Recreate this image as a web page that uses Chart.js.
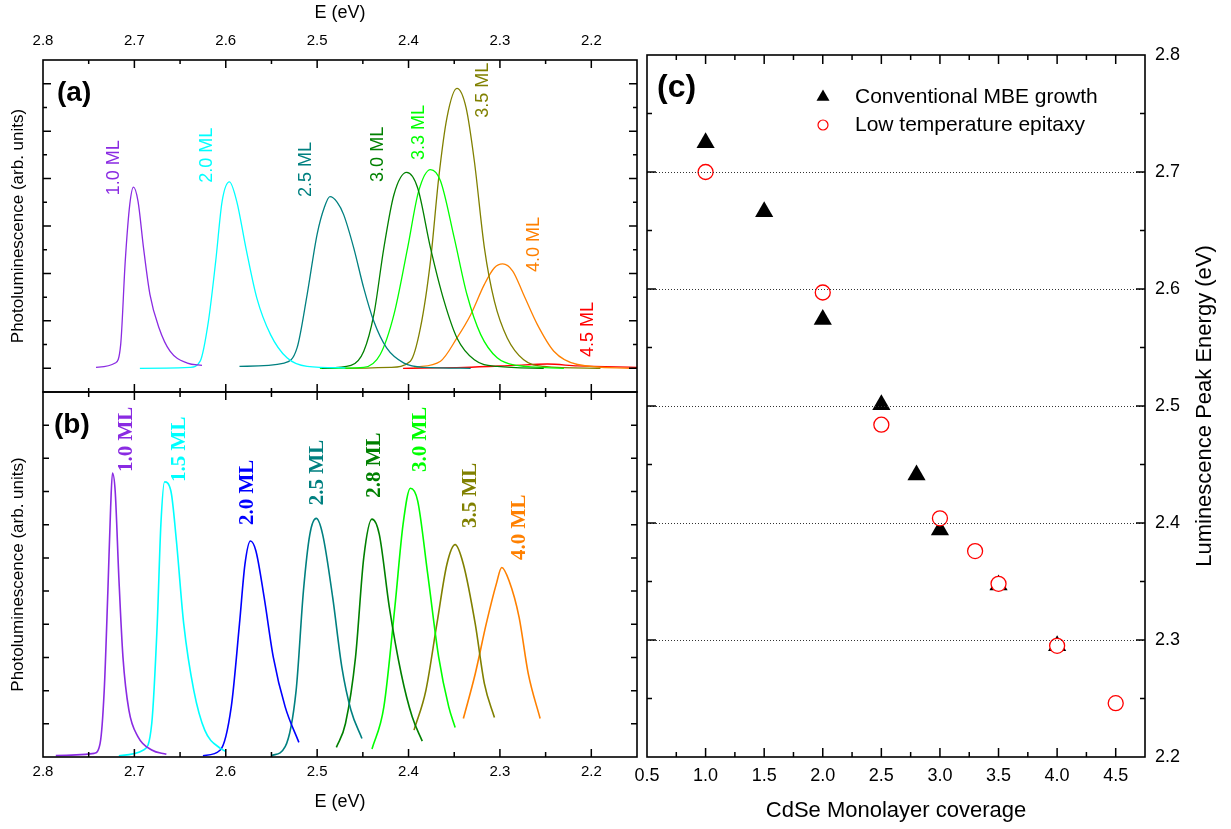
<!DOCTYPE html>
<html>
<head>
<meta charset="utf-8">
<script src="https://cdn.jsdelivr.net/npm/chart.js@4"></script>
<style>
html, body { margin: 0; padding: 0; background: #fff; }
#wrap { position: relative; width: 1231px; height: 829px; }
canvas { position: absolute; left: 0; top: 0; }
</style>
</head>
<body>
<div id="wrap">
<canvas id="ca" width="1231" height="829"></canvas>
<canvas id="cb" width="1231" height="829"></canvas>
<canvas id="cc" width="1231" height="829"></canvas>
</div>
<script>
Chart.defaults.font.family = '"Liberation Sans", Arial, Helvetica, sans-serif'
Chart.defaults.color = '#000'

// panel (a) spectra, [E (eV), PL intensity in arb. units]
var a10 = [[2.742,0.02],[2.721,0.11],[2.715,0.5],[2.710,2.26],[2.705,3.46],[2.701,3.82],[2.696,3.52],[2.690,2.54],[2.683,1.56],[2.673,0.85],[2.661,0.36],[2.642,0.11],[2.626,0.06]]
var a20 = [[2.694,0],[2.639,0.02],[2.628,0.15],[2.619,0.99],[2.611,2.26],[2.604,3.52],[2.596,3.93],[2.588,3.52],[2.578,2.54],[2.566,1.48],[2.551,0.71],[2.533,0.22],[2.511,0.04],[2.469,0.01]]
var a25 = [[2.585,0.04],[2.536,0.11],[2.522,0.43],[2.511,1.55],[2.500,2.83],[2.492,3.4],[2.486,3.62],[2.478,3.5],[2.471,3.24],[2.460,2.54],[2.449,1.69],[2.438,0.99],[2.424,0.43],[2.405,0.11],[2.383,0.02],[2.332,0]]
var a30 = [[2.495,0],[2.463,0.06],[2.449,0.36],[2.438,1.13],[2.427,2.54],[2.416,3.66],[2.402,4.13],[2.390,3.80],[2.376,2.54],[2.361,1.41],[2.347,0.64],[2.328,0.18],[2.303,0.04],[2.252,0]]
var a33 = [[2.497,0],[2.449,0.02],[2.431,0.29],[2.416,1.13],[2.401,2.54],[2.389,3.73],[2.376,4.19],[2.365,3.95],[2.350,2.75],[2.336,1.55],[2.321,0.71],[2.303,0.22],[2.281,0.06],[2.230,0]]
var a35 = [[2.47,0],[2.420,0.02],[2.398,0.15],[2.387,0.85],[2.376,2.26],[2.367,4.01],[2.358,5.28],[2.347,5.90],[2.337,5.49],[2.328,4.37],[2.317,2.54],[2.306,1.41],[2.292,0.64],[2.274,0.18],[2.252,0.04],[2.19,0]]
var a40 = [[2.394,0.02],[2.365,0.15],[2.347,0.64],[2.332,1.13],[2.317,1.77],[2.306,2.12],[2.297,2.20],[2.286,2.05],[2.274,1.55],[2.259,0.92],[2.241,0.36],[2.215,0.08],[2.157,0]]
var a45 = [[2.406,0],[2.339,0.02],[2.285,0.06],[2.248,0.09],[2.215,0.05],[2.150,0.02]]
var curvesA = [a10, a20, a25, a30, a33, a35, a40, a45]
var namesA = ['1.0 ML','2.0 ML','2.5 ML','3.0 ML','3.3 ML','3.5 ML','4.0 ML','4.5 ML']
var tagEA = [2.722, 2.621, 2.512, 2.433, 2.388, 2.318, 2.263, 2.204]
var tagIA = [3.65, 3.91, 3.61, 3.93, 4.39, 5.28, 2.03, 0.24]
var colorsA = ['#8a2be2','#00ffff','#008080','#008000','#00ff00','#808000','#ff8000','#ff0000']

// panel (b) spectra
var b10 = [[2.786,0.04],[2.744,0.11],[2.7375,0.41],[2.733,2.01],[2.729,5.01],[2.726,7.51],[2.724,8.56],[2.721,8.01],[2.717,5.41],[2.7125,3.01],[2.706,1.41],[2.696,0.61],[2.681,0.21],[2.665,0.08]]
var b15 = [[2.717,0.04],[2.690,0.21],[2.681,1.01],[2.675,4.01],[2.671,7.01],[2.667,8.29],[2.660,8.01],[2.654,6.51],[2.646,4.01],[2.635,2.01],[2.623,0.81],[2.606,0.26],[2.600,0.17]]
var b20 = [[2.625,0.04],[2.606,0.21],[2.594,1.51],[2.585,4.01],[2.579,5.81],[2.573,6.51],[2.567,6.21],[2.558,4.81],[2.548,3.01],[2.535,1.51],[2.520,0.44]]
var b25 = [[2.55,0.04],[2.535,0.31],[2.523,2.01],[2.515,5.01],[2.508,6.71],[2.501,7.19],[2.494,6.71],[2.483,4.81],[2.473,2.71],[2.463,1.41],[2.451,0.56]]
var b28 = [[2.479,0.29],[2.469,1.01],[2.458,3.01],[2.449,6.01],[2.440,7.17],[2.432,6.71],[2.421,4.51],[2.408,2.51],[2.396,1.21],[2.385,0.48]]
var b30 = [[2.440,0.24],[2.427,1.51],[2.415,4.51],[2.406,7.01],[2.398,8.10],[2.390,7.72],[2.379,5.51],[2.367,3.01],[2.356,1.51],[2.349,0.89]]
var b35 = [[2.394,0.81],[2.381,2.01],[2.369,4.01],[2.358,5.81],[2.349,6.40],[2.340,5.81],[2.327,4.01],[2.317,2.21],[2.306,1.19]]
var b40 = [[2.340,1.16],[2.327,2.51],[2.315,4.01],[2.304,5.21],[2.298,5.71],[2.290,5.31],[2.279,4.21],[2.269,2.51],[2.256,1.16]]
var curvesB = [b10, b15, b20, b25, b28, b30, b35, b40]
var namesB = ['1.0 ML','1.5 ML','2.0 ML','2.5 ML','2.8 ML','3.0 ML','3.5 ML','4.0 ML']
var tagEB = [2.709, 2.651, 2.576, 2.499, 2.437, 2.387, 2.332, 2.278]
var tagIB = [8.59, 8.29, 6.99, 7.59, 7.81, 8.59, 6.90, 5.94]
var colorsB = ['#8a2be2','#00ffff','#0000ff','#008080','#008000','#00ff00','#808000','#ff8000']

// panel (c) peak energies vs coverage
var covConv = [1.0, 1.5, 2.0, 2.5, 2.8, 3.0, 3.5, 4.0]
var peakConv = [2.725, 2.666, 2.574, 2.501, 2.441, 2.394, 2.347, 2.295]
var covLow = [1.0, 2.0, 2.5, 3.0, 3.3, 3.5, 4.0, 4.5]
var peakLow = [2.700, 2.597, 2.484, 2.404, 2.376, 2.348, 2.295, 2.246]

// tick values
var eTicks = [2.2, 2.3, 2.4, 2.5, 2.6, 2.7, 2.8]
var aTicks = [0, 1, 2, 3, 4, 5, 6]
var bTicks = [1, 2, 3, 4, 5, 6, 7, 8, 9, 10]
var covTicks = [0.5, 1.0, 1.5, 2.0, 2.5, 3.0, 3.5, 4.0, 4.5]
var peakTicks = [2.2, 2.3, 2.4, 2.5, 2.6, 2.7, 2.8]

function setTicks(vals) {
    return function (s) { s.ticks = vals.map(function (v) { return {value: v} }) }
}

function minorsOf(scale, vals) {
    var out = []
    var step = vals[1] - vals[0]
    var lo = Math.min(scale.min, scale.max), hi = Math.max(scale.min, scale.max)
    var cand = [vals[0] - step / 2]
    vals.forEach(function (v) { cand.push(v + step / 2) })
    cand.forEach(function (v) { if (v > lo + 1e-6 && v < hi - 1e-6) out.push(v) })
    return out
}

// box round the plot with inward ticks, like the original figure
function drawFrame(chart, o) {
    var ctx = chart.ctx, a = chart.chartArea, x = chart.scales.x, y = chart.scales.y
    ctx.save()
    ctx.strokeStyle = '#000'
    if (o.grid) {
        ctx.lineWidth = 1
        ctx.strokeStyle = '#333'
        ctx.setLineDash([1, 2])
        o.yMajor.forEach(function (v) {
            var py = Math.round(y.getPixelForValue(v)) + 0.5
            if (py > a.top + 2 && py < a.bottom - 2) {
                ctx.beginPath(); ctx.moveTo(a.left, py); ctx.lineTo(a.right, py); ctx.stroke()
            }
        })
        ctx.setLineDash([])
        ctx.strokeStyle = '#000'
    }
    ctx.lineWidth = 1.5
    function xt(vals, len) {
        vals.forEach(function (v) {
            var px = x.getPixelForValue(v)
            if (px < a.left + 2 || px > a.right - 2) return
            ctx.beginPath(); ctx.moveTo(px, a.top); ctx.lineTo(px, a.top + len)
            ctx.moveTo(px, a.bottom); ctx.lineTo(px, a.bottom - len); ctx.stroke()
        })
    }
    function yt(vals, len) {
        vals.forEach(function (v) {
            var py = y.getPixelForValue(v)
            if (py < a.top + 2 || py > a.bottom - 2) return
            ctx.beginPath(); ctx.moveTo(a.left, py); ctx.lineTo(a.left + len, py)
            ctx.moveTo(a.right, py); ctx.lineTo(a.right - len, py); ctx.stroke()
        })
    }
    xt(o.xMajor, o.major)
    xt(minorsOf(x, o.xMajor), o.minor)
    yt(o.yMajor, o.yMajorLen || o.major)
    if (o.yMinor) yt(minorsOf(y, o.yMajor), o.minor)
    ctx.lineWidth = 1.6
    ctx.strokeRect(a.left, a.top, a.right - a.left, a.bottom - a.top)
    ctx.restore()
}

function drawTags(chart, names, es, is, colors, font) {
    var ctx = chart.ctx, x = chart.scales.x, y = chart.scales.y
    names.forEach(function (n, i) {
        ctx.save()
        ctx.translate(x.getPixelForValue(es[i]), y.getPixelForValue(is[i]))
        ctx.rotate(-Math.PI / 2)
        ctx.font = font
        ctx.fillStyle = colors[i]
        ctx.textAlign = 'left'
        ctx.textBaseline = 'middle'
        ctx.fillText(n, 0, 0)
        ctx.restore()
    })
}

function panelLetter(chart, txt, dx, dy, size) {
    var ctx = chart.ctx, a = chart.chartArea
    ctx.save()
    ctx.font = 'bold ' + size + 'px "Liberation Sans", Arial, sans-serif'
    ctx.fillStyle = '#000'
    ctx.textBaseline = 'middle'
    ctx.fillText(txt, a.left + dx, a.top + dy)
    ctx.restore()
}

function spectra(curves, colors, width) {
    return curves.map(function (c, i) {
        return {
            data: c.map(function (p) { return {x: p[0], y: p[1]} }),
            borderColor: colors[i],
            borderWidth: width,
            pointRadius: 0,
            showLine: true,
            fill: false,
            cubicInterpolationMode: 'monotone'
        }
    })
}

var fix1 = function (v) { return Number(v).toFixed(1) }

// (a)
new Chart(document.getElementById('ca'), {
    type: 'scatter',
    data: {datasets: spectra(curvesA, colorsA, 1.3)},
    options: {
        responsive: false, animation: false, events: [],
        layout: {padding: {left: 0, top: 0, right: 594, bottom: 437}},
        plugins: {legend: {display: false}, tooltip: {enabled: false}},
        scales: {
            x: {
                type: 'linear', position: 'top', min: 2.15, max: 2.8, reverse: true,
                afterBuildTicks: setTicks(eTicks),
                grid: {display: false, drawTicks: false}, border: {display: false},
                ticks: {padding: 10, autoSkip: false, maxRotation: 0, font: {size: 15}, callback: fix1},
                title: {display: true, text: 'E (eV)', font: {size: 18}, padding: {top: 2, bottom: 0}},
                afterFit: function (s) { s.height = 60 }
            },
            y: {
                type: 'linear', min: -0.5, max: 6.5,
                afterBuildTicks: setTicks(aTicks),
                grid: {display: false, drawTicks: false}, border: {display: false},
                ticks: {display: false},
                title: {display: true, text: 'Photoluminescence (arb. units)', font: {size: 17}, padding: {top: 8, bottom: 0}},
                afterFit: function (s) { s.width = 43 }
            }
        }
    },
    plugins: [{
        id: 'decorA',
        afterDatasetsDraw: function (chart) {
            drawFrame(chart, {xMajor: eTicks, yMajor: aTicks, yMinor: true, major: 8, minor: 4})
            drawTags(chart, namesA, tagEA, tagIA, colorsA, '18px "Liberation Sans", Arial, sans-serif')
            panelLetter(chart, '(a)', 14, 33, 28)
        }
    }]
})

// (b)
new Chart(document.getElementById('cb'), {
    type: 'scatter',
    data: {datasets: spectra(curvesB, colorsB, 1.6)},
    options: {
        responsive: false, animation: false, events: [],
        layout: {padding: {left: 0, top: 392, right: 594, bottom: 0}},
        plugins: {legend: {display: false}, tooltip: {enabled: false}},
        scales: {
            x: {
                type: 'linear', position: 'bottom', min: 2.15, max: 2.8, reverse: true,
                afterBuildTicks: setTicks(eTicks),
                grid: {display: false, drawTicks: false}, border: {display: false},
                ticks: {padding: 6, autoSkip: false, maxRotation: 0, font: {size: 15}, callback: fix1},
                title: {display: true, text: 'E (eV)', font: {size: 18}, padding: {top: 0, bottom: 16}},
                afterFit: function (s) { s.height = 72 }
            },
            y: {
                type: 'linear', min: 0, max: 11,
                afterBuildTicks: setTicks(bTicks),
                grid: {display: false, drawTicks: false}, border: {display: false},
                ticks: {display: false},
                title: {display: true, text: 'Photoluminescence (arb. units)', font: {size: 17}, padding: {top: 8, bottom: 0}},
                afterFit: function (s) { s.width = 43 }
            }
        }
    },
    plugins: [{
        id: 'decorB',
        afterDatasetsDraw: function (chart) {
            drawFrame(chart, {xMajor: eTicks, yMajor: bTicks, yMinor: false, major: 8, minor: 5, yMajorLen: 6})
            drawTags(chart, namesB, tagEB, tagIB, colorsB, 'bold 21px "Liberation Serif", "Times New Roman", serif')
            panelLetter(chart, '(b)', 11, 33, 28)
        }
    }]
})

// (c)
new Chart(document.getElementById('cc'), {
    type: 'scatter',
    data: {
        datasets: [{
            label: 'Conventional MBE growth',
            data: covConv.map(function (v, i) { return {x: v, y: peakConv[i]} }),
            pointStyle: 'triangle', pointRadius: 10.5,
            backgroundColor: '#000', borderColor: '#000', borderWidth: 0,
            order: 1
        }, {
            label: 'Low temperature epitaxy',
            data: covLow.map(function (v, i) { return {x: v, y: peakLow[i]} }),
            pointStyle: 'circle', pointRadius: 7.5,
            backgroundColor: '#fff', borderColor: '#ff0000', borderWidth: 1.3,
            order: 0
        }]
    },
    options: {
        responsive: false, animation: false, events: [],
        layout: {padding: {left: 647, top: 55, right: 0, bottom: 0}},
        plugins: {legend: {display: false}, tooltip: {enabled: false}},
        scales: {
            x: {
                type: 'linear', position: 'bottom', min: 0.5, max: 4.75,
                afterBuildTicks: setTicks(covTicks),
                grid: {display: false, drawTicks: false}, border: {display: false},
                ticks: {padding: 8, autoSkip: false, maxRotation: 0, font: {size: 18}, callback: fix1},
                title: {display: true, text: 'CdSe Monolayer coverage', font: {size: 22}, padding: {top: 0, bottom: 5}},
                afterFit: function (s) { s.height = 72 }
            },
            y: {
                type: 'linear', position: 'right', min: 2.2, max: 2.8,
                afterBuildTicks: setTicks(peakTicks),
                grid: {display: false, drawTicks: false}, border: {display: false},
                ticks: {padding: 10, autoSkip: false, font: {size: 18}, callback: fix1},
                afterFit: function (s) { s.width = 86 }
            }
        }
    },
    plugins: [{
        id: 'decorC',
        afterDatasetsDraw: function (chart) {
            drawFrame(chart, {xMajor: covTicks, yMajor: peakTicks, yMinor: true, major: 9, minor: 5, grid: true})
            panelLetter(chart, '(c)', 10, 33, 32)
            var ctx = chart.ctx, a = chart.chartArea
            var ds = chart.data.datasets
            ctx.save()
            // legend
            var lx = a.left + 176, ly = a.top + 42, gap = 28
            ctx.fillStyle = '#000'
            ctx.beginPath()
            ctx.moveTo(lx, ly - 7.5)
            ctx.lineTo(lx + 6.5, ly + 3.75)
            ctx.lineTo(lx - 6.5, ly + 3.75)
            ctx.closePath()
            ctx.fill()
            ctx.beginPath()
            ctx.arc(lx, ly + gap, 5, 0, Math.PI * 2)
            ctx.strokeStyle = '#ff0000'
            ctx.lineWidth = 1.2
            ctx.stroke()
            ctx.font = '21px "Liberation Sans", Arial, sans-serif'
            ctx.textBaseline = 'middle'
            ctx.fillStyle = '#000'
            ctx.fillText(ds[0].label, lx + 32, ly)
            ctx.fillText(ds[1].label, lx + 32, ly + gap)
            // right axis title, reading upwards
            ctx.translate(chart.width - 26, (a.top + a.bottom) / 2)
            ctx.rotate(-Math.PI / 2)
            ctx.textAlign = 'center'
            ctx.font = '22px "Liberation Sans", Arial, sans-serif'
            ctx.fillText('Luminescence Peak Energy (eV)', 0, 0)
            ctx.restore()
        }
    }]
})
</script>
</body>
</html>
